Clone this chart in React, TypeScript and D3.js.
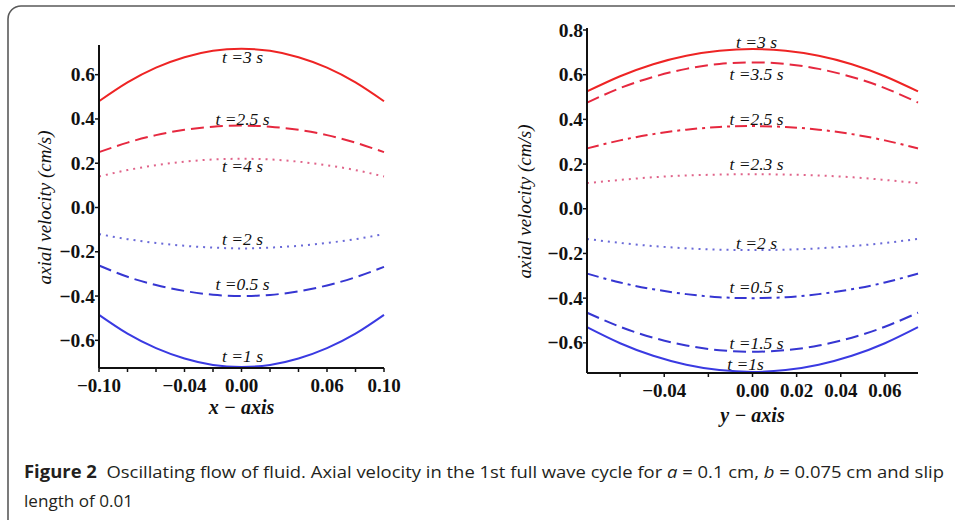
import React, { useEffect, useRef } from 'react';
import * as d3 from 'd3';

// left panel: x - axis, a = 0.1
const leftX = [-0.1, -0.08, -0.06, -0.04, -0.02, 0, 0.02, 0.04, 0.06, 0.08, 0.1];
const leftT3 = [0.48, 0.565, 0.632, 0.679, 0.708, 0.717, 0.708, 0.679, 0.632, 0.565, 0.48];
const leftT25 = [0.25, 0.293, 0.327, 0.351, 0.365, 0.37, 0.365, 0.351, 0.327, 0.293, 0.25];
const leftT4 = [0.14, 0.169, 0.191, 0.207, 0.217, 0.22, 0.217, 0.207, 0.191, 0.169, 0.14];
const leftT2 = [-0.12, -0.143, -0.16, -0.173, -0.181, -0.185, -0.181, -0.173, -0.16, -0.143, -0.12];
const leftT05 = [-0.262, -0.313, -0.35, -0.377, -0.394, -0.4, -0.395, -0.379, -0.352, -0.315, -0.268];
const leftT1 = [-0.485, -0.57, -0.635, -0.682, -0.711, -0.72, -0.711, -0.682, -0.635, -0.57, -0.485];

// right panel: y - axis, b = 0.075
const rightX = [-0.075, -0.06, -0.045, -0.03, -0.015, 0, 0.015, 0.03, 0.045, 0.06, 0.075];
const rightT3 = [0.525, 0.593, 0.647, 0.685, 0.707, 0.715, 0.707, 0.685, 0.647, 0.593, 0.525];
const rightT35 = [0.475, 0.54, 0.59, 0.626, 0.648, 0.655, 0.648, 0.626, 0.59, 0.54, 0.475];
const rightT25 = [0.27, 0.306, 0.334, 0.354, 0.366, 0.37, 0.366, 0.354, 0.334, 0.306, 0.27];
const rightT23 = [0.115, 0.129, 0.141, 0.149, 0.153, 0.155, 0.153, 0.149, 0.141, 0.129, 0.115];
const rightT2 = [-0.135, -0.153, -0.167, -0.177, -0.183, -0.185, -0.183, -0.177, -0.167, -0.153, -0.135];
const rightT05 = [-0.29, -0.33, -0.36, -0.382, -0.396, -0.4, -0.396, -0.382, -0.36, -0.33, -0.29];
const rightT15 = [-0.465, -0.528, -0.577, -0.612, -0.633, -0.64, -0.633, -0.612, -0.577, -0.528, -0.465];
const rightT1 = [-0.53, -0.602, -0.658, -0.698, -0.722, -0.73, -0.722, -0.698, -0.658, -0.602, -0.53];

// labels sit at x = 0, y given in data units
const leftLabels = ['t =3 s', 't =2.5 s', 't =4 s', 't =2 s', 't =0.5 s', 't =1 s'];
const leftLabelY = [0.653, 0.373, 0.16, -0.169, -0.373, -0.697];
const rightLabels = ['t =3 s', 't =3.5 s', 't =2.5 s', 't =2.3 s', 't =2 s', 't =0.5 s', 't =1.5 s', 't =1s'];
const rightLabelY = [0.72, 0.576, 0.375, 0.174, -0.18, -0.377, -0.627, -0.72];

const leftXTicks = [-0.1, -0.08, -0.06, -0.04, -0.02, 0, 0.02, 0.04, 0.06, 0.08, 0.1];
const leftXTickLabels = [-0.1, -0.04, 0, 0.06, 0.1];
const leftYTicks = [-0.6, -0.4, -0.2, 0, 0.2, 0.4, 0.6];
const rightXTicks = [-0.06, -0.04, -0.02, 0, 0.02, 0.04, 0.06];
const rightXTickLabels = [-0.04, 0, 0.02, 0.04, 0.06];
const rightYTicks = [-0.6, -0.4, -0.2, 0, 0.2, 0.4, 0.6, 0.8];

const RED = '#ee2424';
const RED_D = '#e6283f';
const PINK = '#e0648a';
const BLUE = '#3a3ae2';
const BLUE_D = '#3636d2';
const BLUE_L = '#6a6ad8';

const DASH = '13,6';
const DOT = '2,5';
const DASHDOT = '12,5,3,5';

const serif = '"Liberation Serif", "Times New Roman", serif';

const App = () => {
  const svgRef = useRef(null);

  useEffect(() => {
    const svg = d3.select(svgRef.current);
    svg.selectAll('*').remove();

    // frame
    svg.append('rect')
      .attr('x', 8).attr('y', 6).attr('width', 970).attr('height', 530)
      .attr('rx', 13).attr('ry', 13)
      .attr('fill', 'none').attr('stroke', '#5a5a5a').attr('stroke-width', 1.6);

    const panel = (cfg) => {
      const x = d3.scaleLinear().domain(cfg.xDomain).range(cfg.xRange);
      const y = d3.scaleLinear().domain(cfg.yDomain).range(cfg.yRange);
      const g = svg.append('g');

      const line = d3.line()
        .x((d) => x(d[0]))
        .y((d) => y(d[1]))
        .curve(d3.curveNatural);

      cfg.series.forEach((s) => {
        g.append('path')
          .datum(cfg.xs.map((v, i) => [v, s.values[i]]))
          .attr('d', line)
          .attr('fill', 'none')
          .attr('stroke', s.color)
          .attr('stroke-width', 2)
          .attr('stroke-dasharray', s.dash || null);
      });

      // axes
      const x0 = cfg.xRange[0];
      const y0 = cfg.yRange[0];
      g.append('line')
        .attr('x1', x0).attr('x2', x0)
        .attr('y1', cfg.yRange[0]).attr('y2', cfg.yRange[1] - 2)
        .attr('stroke', '#111').attr('stroke-width', 2);
      g.append('line')
        .attr('x1', x0).attr('x2', cfg.xRange[1])
        .attr('y1', y0).attr('y2', y0)
        .attr('stroke', '#111').attr('stroke-width', 2);

      const fmtY = d3.format('.1f');
      const fmtX = d3.format('.2f');

      cfg.yTicks.forEach((t) => {
        g.append('line')
          .attr('x1', x0 - 4).attr('x2', x0)
          .attr('y1', y(t)).attr('y2', y(t))
          .attr('stroke', '#111').attr('stroke-width', 1.5);
        g.append('text')
          .attr('x', x0 - 4).attr('y', y(t) + 6.5)
          .attr('text-anchor', 'end')
          .attr('font-family', serif).attr('font-weight', 'bold').attr('font-size', 19.5)
          .attr('fill', '#111')
          .text(fmtY(t));
      });

      cfg.xTicks.forEach((t) => {
        g.append('line')
          .attr('x1', x(t)).attr('x2', x(t))
          .attr('y1', y0).attr('y2', y0 + 4)
          .attr('stroke', '#111').attr('stroke-width', 1.5);
      });
      cfg.xTickLabels.forEach((t) => {
        g.append('text')
          .attr('x', x(t)).attr('y', y0 + 24)
          .attr('text-anchor', 'middle')
          .attr('font-family', serif).attr('font-weight', 'bold').attr('font-size', 19)
          .attr('fill', '#111')
          .text(fmtX(t));
      });

      cfg.labels.forEach((l, i) => {
        g.append('text')
          .attr('x', x(0) + cfg.labelDx[i]).attr('y', y(cfg.labelY[i]))
          .attr('text-anchor', 'middle')
          .attr('font-family', serif).attr('font-style', 'italic').attr('font-size', 17.5)
          .attr('fill', '#111')
          .text(l);
      });

      g.append('text')
        .attr('transform', `translate(${cfg.titleX},${(cfg.yRange[0] + cfg.yRange[1]) / 2}) rotate(-90)`)
        .attr('text-anchor', 'middle')
        .attr('font-family', serif).attr('font-style', 'italic').attr('font-size', 19)
        .attr('fill', '#111')
        .text('axial velocity (cm/s)');

      g.append('text')
        .attr('x', x(0)).attr('y', cfg.xTitleY)
        .attr('text-anchor', 'middle')
        .attr('font-family', serif).attr('font-style', 'italic').attr('font-weight', 'bold').attr('font-size', 20)
        .attr('fill', '#111')
        .text(cfg.xTitle);
    };

    panel({
      xDomain: [-0.1, 0.1], xRange: [99, 384],
      yDomain: [-0.725, 0.725], yRange: [368, 47],
      xs: leftX,
      series: [
        { values: leftT3, color: RED },
        { values: leftT25, color: RED_D, dash: DASH },
        { values: leftT4, color: PINK, dash: DOT },
        { values: leftT2, color: BLUE_L, dash: DOT },
        { values: leftT05, color: BLUE_D, dash: DASH },
        { values: leftT1, color: BLUE },
      ],
      xTicks: leftXTicks, xTickLabels: leftXTickLabels, yTicks: leftYTicks,
      labels: leftLabels, labelY: leftLabelY, labelDx: leftLabels.map(() => 1),
      titleX: 51, xTitle: 'x − axis', xTitleY: 414,
    });

    panel({
      xDomain: [-0.075, 0.075], xRange: [587, 918],
      yDomain: [-0.735, 0.8], yRange: [373, 30],
      xs: rightX,
      series: [
        { values: rightT3, color: RED },
        { values: rightT35, color: RED_D, dash: DASH },
        { values: rightT25, color: RED_D, dash: DASHDOT },
        { values: rightT23, color: PINK, dash: DOT },
        { values: rightT2, color: BLUE_L, dash: DOT },
        { values: rightT05, color: BLUE_D, dash: DASHDOT },
        { values: rightT15, color: BLUE_D, dash: DASH },
        { values: rightT1, color: BLUE },
      ],
      xTicks: rightXTicks, xTickLabels: rightXTickLabels, yTicks: rightYTicks,
      labels: rightLabels, labelY: rightLabelY, labelDx: rightLabels.map((l) => (l === 't =1s' ? -7 : 4)),
      titleX: 531, xTitle: 'y − axis', xTitleY: 422,
    });

    // caption
    const cap = svg.append('g')
      .attr('font-family', '"Open Sans", "Noto Sans", sans-serif')
      .attr('font-size', 17)
      .attr('fill', '#231f20');
    const l1 = cap.append('text')
      .attr('x', 24).attr('y', 478)
      .attr('textLength', 920).attr('lengthAdjust', 'spacingAndGlyphs');
    l1.append('tspan').attr('font-weight', 'bold').text('Figure 2');
    l1.append('tspan').text('\u00a0 Oscillating flow of fluid. Axial velocity in the 1st full wave cycle for ');
    l1.append('tspan').attr('font-style', 'italic').text('a');
    l1.append('tspan').text(' = 0.1 cm, ');
    l1.append('tspan').attr('font-style', 'italic').text('b');
    l1.append('tspan').text(' = 0.075 cm and slip');
    cap.append('text')
      .attr('x', 24).attr('y', 507)
      .attr('textLength', 109).attr('lengthAdjust', 'spacingAndGlyphs')
      .text('length of 0.01');
  }, []);

  return (
    <svg
      ref={svgRef}
      width={955}
      height={520}
      style={{ position: 'absolute', left: 0, top: 0, background: '#fff' }}
    />
  );
};

export default App;
